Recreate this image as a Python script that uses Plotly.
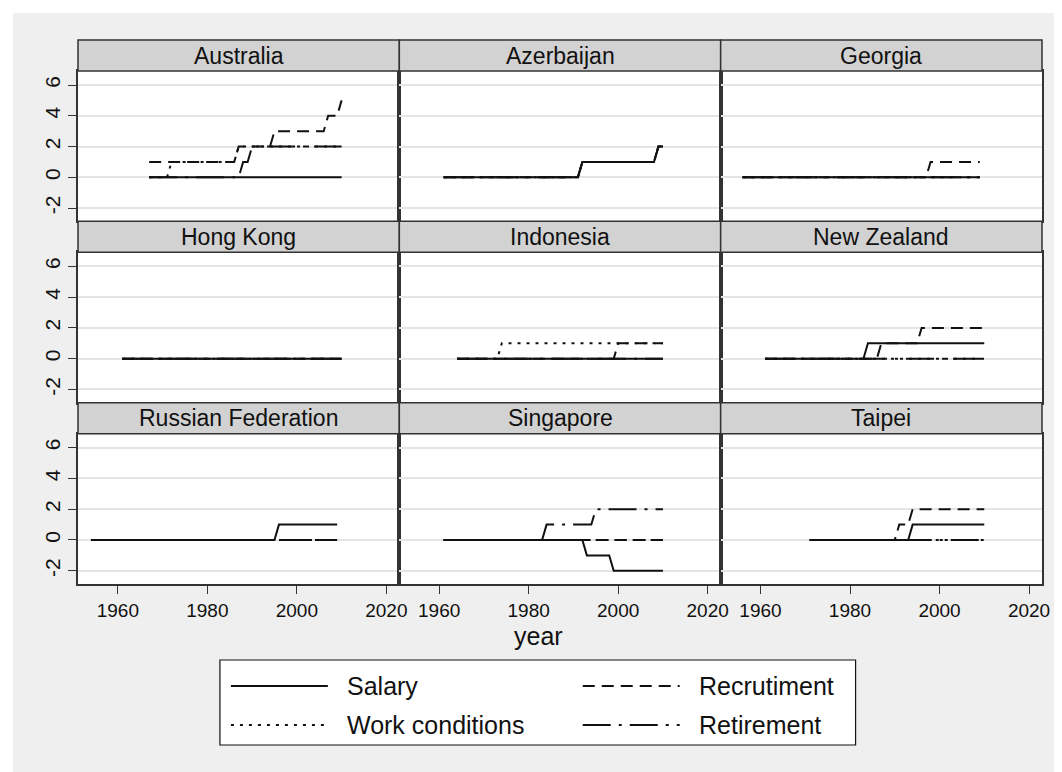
import plotly.graph_objects as go
from plotly.subplots import make_subplots

# Panels, in reading order
countries = ["Australia", "Azerbaijan", "Georgia",
             "Hong Kong", "Indonesia", "New Zealand",
             "Russian Federation", "Singapore", "Taipei"]
series = ["Salary", "Work conditions", "Recrutiment", "Retirement"]

# (years, values) at the points where a series changes
australia = {
    "Salary": ([1967, 2010], [0, 0]),
    "Work conditions": ([1967, 1971, 1972, 1986, 1987, 2010], [0, 0, 1, 1, 2, 2]),
    "Recrutiment": ([1967, 1986, 1987, 1994, 1995, 2006, 2007, 2009, 2010], [1, 1, 2, 2, 3, 3, 4, 4, 5]),
    "Retirement": ([1967, 1987, 1988, 1989, 1990, 2010], [0, 0, 1, 1, 2, 2]),
}
azerbaijan = {
    "Salary": ([1961, 1991, 1992, 2008, 2009, 2010], [0, 0, 1, 1, 2, 2]),
    "Work conditions": ([1961, 1991, 1992, 2008, 2009, 2010], [0, 0, 1, 1, 2, 2]),
    "Recrutiment": ([1961, 1991, 1992, 2008, 2009, 2010], [0, 0, 1, 1, 2, 2]),
    "Retirement": ([1961, 1991, 1992, 2008, 2009, 2010], [0, 0, 1, 1, 2, 2]),
}
georgia = {
    "Salary": ([1956, 2009], [0, 0]),
    "Work conditions": ([1956, 2009], [0, 0]),
    "Recrutiment": ([1956, 1997, 1998, 2009], [0, 0, 1, 1]),
    "Retirement": ([1956, 2009], [0, 0]),
}
hong_kong = {
    "Salary": ([1961, 2010], [0, 0]),
    "Work conditions": ([1961, 2010], [0, 0]),
    "Recrutiment": ([1961, 2010], [0, 0]),
    "Retirement": ([1961, 2010], [0, 0]),
}
indonesia = {
    "Salary": ([1964, 2010], [0, 0]),
    "Work conditions": ([1964, 1973, 1974, 2010], [0, 0, 1, 1]),
    "Recrutiment": ([1964, 1999, 2000, 2010], [0, 0, 1, 1]),
    "Retirement": ([1964, 2010], [0, 0]),
}
new_zealand = {
    "Salary": ([1961, 1983, 1984, 2010], [0, 0, 1, 1]),
    "Work conditions": ([1961, 2010], [0, 0]),
    "Recrutiment": ([1961, 1986, 1987, 1995, 1996, 2010], [0, 0, 1, 1, 2, 2]),
    "Retirement": ([1961, 2010], [0, 0]),
}
russia = {
    "Salary": ([1954, 1995, 1996, 2009], [0, 0, 1, 1]),
    "Work conditions": ([1954, 2009], [0, 0]),
    "Recrutiment": ([1954, 2009], [0, 0]),
    "Retirement": ([1954, 2009], [0, 0]),
}
singapore = {
    "Salary": ([1961, 1992, 1993, 1998, 1999, 2010], [0, 0, -1, -1, -2, -2]),
    "Work conditions": ([1961, 2010], [0, 0]),
    "Recrutiment": ([1961, 2010], [0, 0]),
    "Retirement": ([1961, 1983, 1984, 1994, 1995, 2010], [0, 0, 1, 1, 2, 2]),
}
taipei = {
    "Salary": ([1971, 1993, 1994, 2010], [0, 0, 1, 1]),
    "Work conditions": ([1971, 2010], [0, 0]),
    "Recrutiment": ([1971, 1990, 1991, 1993, 1994, 2010], [0, 0, 1, 1, 2, 2]),
    "Retirement": ([1971, 2010], [0, 0]),
}
panel_data = [australia, azerbaijan, georgia, hong_kong, indonesia,
              new_zealand, russia, singapore, taipei]

x_ticks = [1960, 1980, 2000, 2020]
y_ticks = [-2, 0, 2, 4, 6]
y_tick_text = ["-2", "0", "2", "4", "6"]   # plain hyphen, as Stata prints it

# Stata-like line patterns
DASHES = {
    "Salary": "solid",
    "Work conditions": "3px,6px",
    "Recrutiment": "12px,7px",
    "Retirement": "28px,8px,3px,8px",
}
FONT = "Liberation Sans, Arial, Helvetica, sans-serif"
INK = "#111111"
FRAME = "#333333"

# page geometry in pixels
W, H = 1062, 772
L, R, T, B = 70, 1034.5, 32, 576
PW, PH = R - L, B - T
COL_W = PW / 3
ROW_H = PH / 3
STRIP_H = 31


def px(x):
    return (x - L) / PW


def py(y):
    return (B - y) / PH


fig = make_subplots(rows=3, cols=3)

for i, (name, data) in enumerate(zip(countries, panel_data)):
    r, c = divmod(i, 3)
    for s in series:
        yrs, vals = data[s]
        fig.add_trace(go.Scatter(
            x=yrs, y=vals, mode="lines", name=s, showlegend=False,
            line=dict(color=INK, width=2, dash=DASHES[s]),
            hovertemplate=f"{name}<br>{s}: %{{y}}<br>%{{x}}<extra></extra>",
        ), row=r + 1, col=c + 1)

    n = i + 1
    xkey = "xaxis" if n == 1 else f"xaxis{n}"
    ykey = "yaxis" if n == 1 else f"yaxis{n}"
    top = T + r * ROW_H + STRIP_H
    bot = T + (r + 1) * ROW_H
    bottom_row = r == 2
    left_col = c == 0
    fig.update_layout({
        xkey: dict(
            domain=[px(L + c * COL_W), px(L + (c + 1) * COL_W)],
            range=[1951.1, 2022.9], tickvals=x_ticks,
            showgrid=False, zeroline=False,
            showline=True, mirror=True, linecolor=FRAME, linewidth=1.5,
            ticks="outside" if bottom_row else "", ticklen=8, tickcolor=FRAME,
            showticklabels=bottom_row,
            tickfont=dict(family=FONT, size=19, color=INK),
        ),
        ykey: dict(
            domain=[py(bot), py(top)],
            range=[-2.86, 6.91], tickvals=y_ticks, ticktext=y_tick_text,
            showgrid=True, gridcolor="#E4E4E4", gridwidth=1.5, zeroline=False,
            showline=True, mirror=True, linecolor=FRAME, linewidth=1.5,
            ticks="outside" if left_col else "", ticklen=8, tickcolor=FRAME,
            showticklabels=left_col, tickangle=-90,
            tickfont=dict(family=FONT, size=21, color=INK),
        ),
    })

    # strip header
    sx0, sx1 = px(L + c * COL_W), px(L + (c + 1) * COL_W)
    sy0, sy1 = py(T + r * ROW_H + STRIP_H), py(T + r * ROW_H)
    fig.add_shape(type="rect", xref="paper", yref="paper",
                  x0=sx0, x1=sx1, y0=sy0, y1=sy1,
                  fillcolor="#D2D2D2", line=dict(color=FRAME, width=1.5))
    fig.add_annotation(x=(sx0 + sx1) / 2, y=(sy0 + sy1) / 2, xref="paper", yref="paper",
                       text=name, showarrow=False, xanchor="center", yanchor="middle",
                       font=dict(family=FONT, size=23, color=INK))

# x title, centred on the whole graph
fig.add_annotation(x=px(531), y=py(628), xref="paper", yref="paper", text="year",
                   showarrow=False, xanchor="center", yanchor="middle",
                   font=dict(family=FONT, size=25, color=INK))

# legend box drawn by hand (two columns, long line samples)
fig.add_shape(type="rect", xref="paper", yref="paper",
              x0=px(212), x1=px(848), y0=py(737), y1=py(652),
              fillcolor="white", line=dict(color=INK, width=1.2))
legend_slots = {
    "Salary": (223, 678),
    "Recrutiment": (575, 678),
    "Work conditions": (223, 717),
    "Retirement": (575, 717),
}
for s, (lx, ly) in legend_slots.items():
    fig.add_shape(type="line", xref="paper", yref="paper",
                  x0=px(lx), x1=px(lx + 97), y0=py(ly), y1=py(ly),
                  line=dict(color=INK, width=2, dash=DASHES[s]))
    fig.add_annotation(x=px(lx + 114), y=py(ly), xref="paper", yref="paper",
                       text=s, showarrow=False, xanchor="left", yanchor="middle",
                       font=dict(family=FONT, size=25, color=INK))

# thin white edge round the grey graph region
fig.add_shape(type="rect", xref="paper", yref="paper",
              x0=px(0), x1=px(W), y0=py(H), y1=py(0),
              fillcolor="rgba(0,0,0,0)", line=dict(color="white", width=10))

fig.update_layout(
    width=W, height=H,
    margin=dict(l=L, r=W - R, t=T, b=H - B),
    paper_bgcolor="#EFEFEF", plot_bgcolor="white",
    showlegend=False,
    font=dict(family=FONT, color=INK),
)

fig.write_html("out.html")
